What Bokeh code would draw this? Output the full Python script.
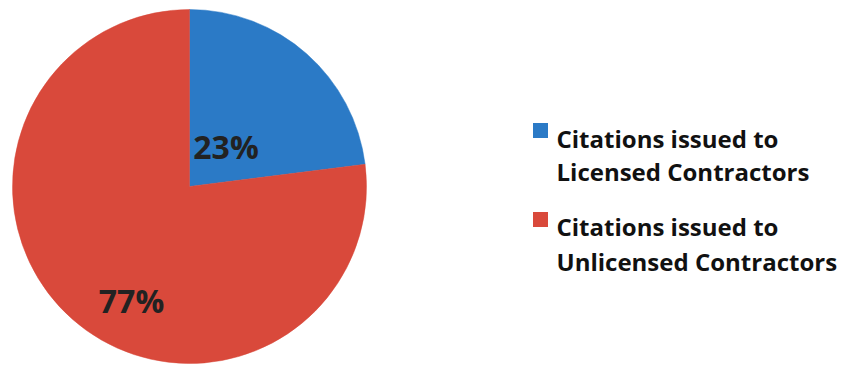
import math
from bokeh.plotting import figure
from bokeh.models import Range1d, ColumnDataSource
from bokeh.core.properties import value
from bokeh.embed import file_html
from bokeh.resources import INLINE

# ---- data ----
categories = ["Citations issued to Licensed Contractors",
              "Citations issued to Unlicensed Contractors"]
legend_line1 = ["Citations issued to", "Citations issued to"]
legend_line2 = ["Licensed Contractors", "Unlicensed Contractors"]
shares = [23, 77]
pct_labels = ["23%", "77%"]

# ---- style / layout ----
colors = ["#2b7ac6", "#d9493b"]
W, H = 844, 365
cx, cy, R = 189, 179, 177
label_pos = [(225.5, 219), (131, 65)]
leg_x_sq, leg_x_txt = 540, 556
leg_sq_y = [235, 146]
leg_l1_y = [227, 139]
leg_l2_y = [194, 104]
FONT = "Open Sans"

p = figure(width=W, height=H, output_backend="svg", toolbar_location=None,
           x_range=Range1d(0, W), y_range=Range1d(0, H),
           min_border=0, outline_line_color=None)
p.axis.visible = False
p.grid.visible = False
p.background_fill_color = "white"
p.border_fill_color = "white"

# wedges, clockwise from 12 o'clock
total = sum(shares)
starts, ends = [], []
a = math.pi / 2
for s in shares:
    ang = 2 * math.pi * s / total
    ends.append(a)
    starts.append(a - ang)
    a -= ang
src = ColumnDataSource(dict(start=starts, end=ends, color=colors, cat=categories))
p.wedge(x=cx, y=cy, radius=R, start_angle="start", end_angle="end",
        fill_color="color", line_color="color", line_width=0.5, source=src)

# percent labels
p.text(x=[q[0] for q in label_pos], y=[q[1] for q in label_pos], text=pct_labels,
       text_font=value(FONT), text_font_style="bold", text_font_size="32px",
       text_align="center", text_baseline="alphabetic", text_color="#222222")

# legend
p.rect(x=[leg_x_sq] * 2, y=leg_sq_y, width=15, height=15,
       fill_color=colors, line_color=None)
p.text(x=[leg_x_txt] * 2, y=leg_l1_y, text=legend_line1,
       text_font=value(FONT), text_font_style="bold", text_font_size="24px",
       text_align="left", text_baseline="alphabetic", text_color="#111111")
p.text(x=[leg_x_txt] * 2, y=leg_l2_y, text=legend_line2,
       text_font=value(FONT), text_font_style="bold", text_font_size="24px",
       text_align="left", text_baseline="alphabetic", text_color="#111111")

open("out.html", "w").write(file_html(p, INLINE))
